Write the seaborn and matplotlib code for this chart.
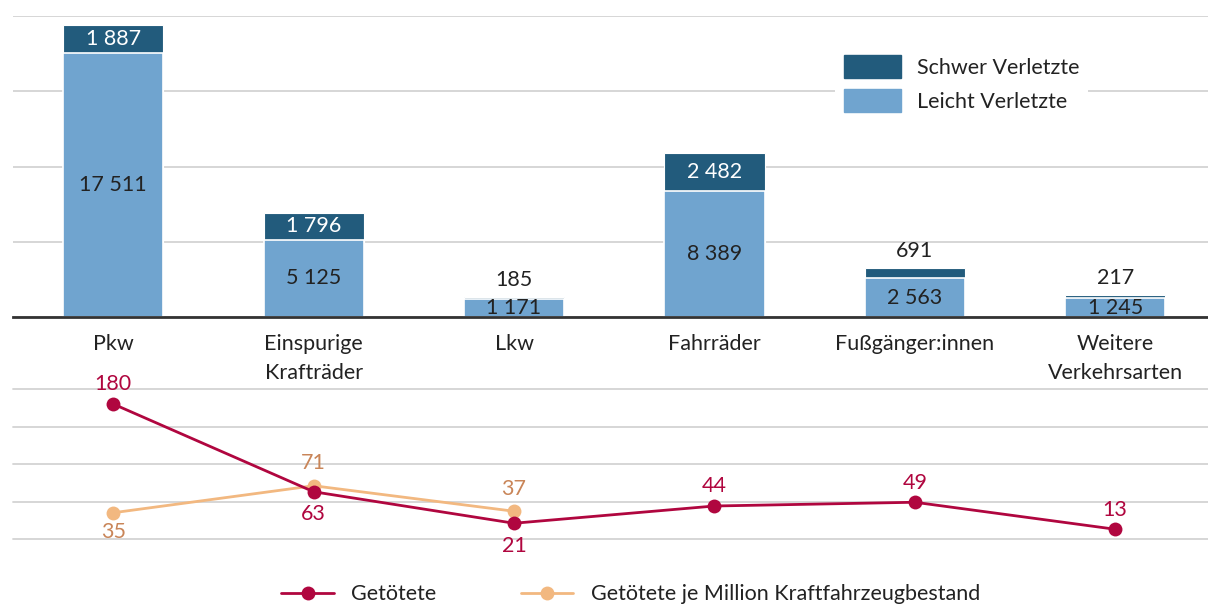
import numpy as np
import pandas as pd
import matplotlib.pyplot as plt
import seaborn as sns
from matplotlib.patches import Patch
from matplotlib.lines import Line2D

# Daten aus der Grafik
kategorien = ['Pkw', 'Einspurige\nKrafträder', 'Lkw', 'Fahrräder', 'Fußgänger:innen', 'Weitere\nVerkehrsarten']
schwer = [1887, 1796, 185, 2482, 691, 217]
leicht = [17511, 5125, 1171, 8389, 2563, 1245]
getoetete = [180, 63, 21, 44, 49, 13]
je_million = [35, 71, 37]  # nur Pkw, Einspurige Krafträder, Lkw

dunkel = '#225B7C'
hell = '#70A4CF'
rot = '#B0063F'
orange = '#F2B880'
orange_txt = '#C98558'
grid_col = '#D3D3D3'
fs = 15.5

sns.set_style('white')
plt.rcParams['font.family'] = ['Lato', 'DejaVu Sans']


def fmt(v):
    return f'{v:,}'.replace(',', ' ')


df = pd.DataFrame({'kat': kategorien, 'schwer': schwer, 'leicht': leicht})
df['gesamt'] = df['schwer'] + df['leicht']

fig = plt.figure(figsize=(12.08, 6.04), dpi=100)
ax1 = fig.add_axes([13 / 1208, 1 - 317 / 604, 1195 / 1208, 301 / 604])
ax2 = fig.add_axes([13 / 1208, 1 - 539 / 604, 1195 / 1208, 150 / 604])

# obere Grafik: gestapelte Balken
sns.barplot(data=df, x='kat', y='gesamt', color=dunkel, width=0.5, saturation=1,
            edgecolor='white', linewidth=0.8, ax=ax1)
sns.barplot(data=df, x='kat', y='leicht', color=hell, width=0.5, saturation=1,
            edgecolor='white', linewidth=1.2, ax=ax1)

for i, row in df.iterrows():
    ax1.text(i, row['leicht'] / 2, fmt(row['leicht']), ha='center', va='center',
             fontsize=fs, color='#222222')
    if row['schwer'] > 1000:
        ax1.text(i, row['leicht'] + row['schwer'] / 2, fmt(row['schwer']), ha='center',
                 va='center', fontsize=fs, color='white')
    else:
        ax1.annotate(fmt(row['schwer']), (i, row['gesamt']), xytext=(0, 5),
                     textcoords='offset points', ha='center', va='bottom',
                     fontsize=fs, color='#222222')

ax1.set_xlim(-0.5, 5.463)
ax1.set_ylim(0, 20000)
ax1.set_yticks([0, 5000, 10000, 15000, 20000])
ax1.set_yticklabels([])
ax1.yaxis.grid(True, color=grid_col, linewidth=1.3)
ax1.set_axisbelow(True)
ax1.set_xlabel('')
ax1.set_ylabel('')
ax1.tick_params(axis='x', length=0, pad=12, labelsize=fs, labelcolor='#222222')
ax1.tick_params(axis='y', length=0)
for t in ax1.get_xticklabels():
    t.set_linespacing(1.6)
for s in ['top', 'right', 'left']:
    ax1.spines[s].set_visible(False)
ax1.spines['bottom'].set_color('#333333')
ax1.spines['bottom'].set_linewidth(2)

leg1 = ax1.legend(handles=[Patch(color=dunkel), Patch(color=hell)],
                  labels=['Schwer Verletzte', 'Leicht Verletzte'],
                  loc='upper left', bbox_to_anchor=(835 / 1208, 1 - 46 / 604),
                  bbox_transform=fig.transFigure, fontsize=fs, frameon=True,
                  facecolor='white', edgecolor='none', framealpha=1, fancybox=False,
                  handlelength=2.65, handleheight=1.3, handletextpad=0.75,
                  labelspacing=0.5, borderpad=0.4, borderaxespad=0)
for t in leg1.get_texts():
    t.set_color('#222222')

# untere Grafik: Linien
x_alle = list(range(len(getoetete)))
x_teil = list(range(len(je_million)))
sns.lineplot(x=x_teil, y=je_million, color=orange, marker='o', markersize=10,
             markeredgewidth=0, linewidth=2, sort=False, ax=ax2)
sns.lineplot(x=x_alle, y=getoetete, color=rot, marker='o', markersize=10,
             markeredgewidth=0, linewidth=2, sort=False, ax=ax2)

oben_rot = [True, False, False, True, True, True]
for i, v in enumerate(getoetete):
    dy = 7 if oben_rot[i] else -9
    ax2.annotate(str(v), (i, v), xytext=(0, dy), textcoords='offset points',
                 ha='center', va='bottom' if oben_rot[i] else 'top',
                 fontsize=fs, color=rot)
oben_or = [False, True, True]
for i, v in enumerate(je_million):
    dy = 9 if oben_or[i] else -7
    ax2.annotate(str(v), (i, v), xytext=(0, dy), textcoords='offset points',
                 ha='center', va='bottom' if oben_or[i] else 'top',
                 fontsize=fs, color=orange_txt)

ax2.set_xlim(-0.5, 5.463)
ax2.set_ylim(0, 200)
ax2.set_yticks([0, 50, 100, 150, 200])
ax2.set_yticklabels([])
ax2.set_xticks([])
ax2.yaxis.grid(True, color=grid_col, linewidth=1.3)
ax2.set_axisbelow(True)
for s in ax2.spines.values():
    s.set_visible(False)
for gl in ax2.get_ygridlines():
    gl.set_clip_on(False)
ax2.tick_params(axis='y', length=0)

handles = [Line2D([], [], color=rot, marker='o', markersize=10, markeredgewidth=0, linewidth=2),
           Line2D([], [], color=orange, marker='o', markersize=10, markeredgewidth=0, linewidth=2)]
leg2 = fig.legend(handles, ['Getötete', 'Getötete je Million Kraftfahrzeugbestand'],
                  loc='center', bbox_to_anchor=(0.522, 0.016), ncol=2, frameon=False,
                  fontsize=fs, handlelength=2.45, columnspacing=3.9, handletextpad=0.8)
for t in leg2.get_texts():
    t.set_color('#222222')

fig.savefig('out.png', dpi=100)
